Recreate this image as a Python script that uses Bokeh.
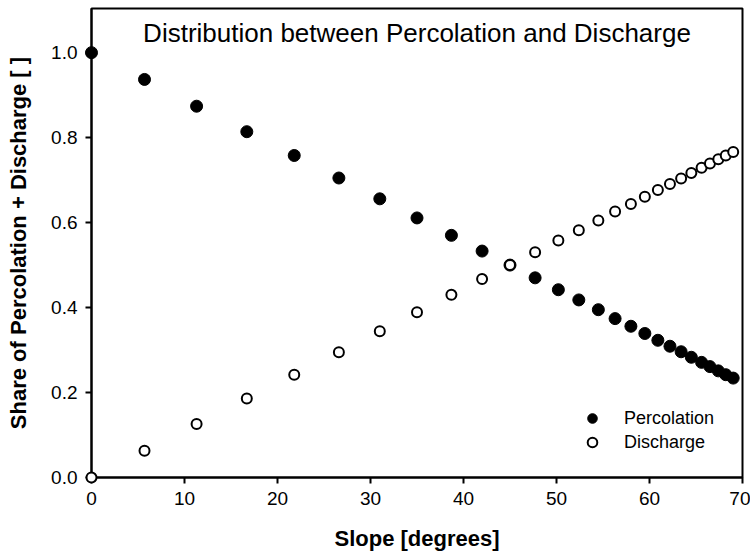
from bokeh.plotting import figure
from bokeh.models import FixedTicker, NumeralTickFormatter, Label, Legend, LegendItem, Range1d
from bokeh.embed import file_html
from bokeh.resources import INLINE

slope = [0.0, 5.7, 11.3, 16.7, 21.8, 26.6, 31.0, 35.0, 38.7, 42.0, 45.0, 47.7, 50.2, 52.4,
         54.5, 56.3, 58.0, 59.5, 60.9, 62.2, 63.4, 64.5, 65.6, 66.5, 67.4, 68.2, 69.0]
percolation = [1.0, 0.937, 0.874, 0.814, 0.758, 0.705, 0.656, 0.611, 0.570, 0.533, 0.500, 0.470,
               0.442, 0.418, 0.395, 0.374, 0.356, 0.339, 0.323, 0.309, 0.296, 0.283, 0.271,
               0.261, 0.251, 0.242, 0.234]
discharge = [0.0, 0.063, 0.126, 0.186, 0.242, 0.295, 0.344, 0.389, 0.430, 0.467, 0.500, 0.530,
             0.558, 0.582, 0.605, 0.626, 0.644, 0.661, 0.677, 0.691, 0.704, 0.717, 0.729,
             0.739, 0.749, 0.758, 0.766]
x_ticks = [0, 10, 20, 30, 40, 50, 60, 70]
y_ticks = [0.0, 0.2, 0.4, 0.6, 0.8, 1.0]
title_text = "Distribution between Percolation and Discharge"
x_label = "Slope [degrees]"
y_label = "Share of Percolation + Discharge [ ]"

FONT = "Liberation Sans"

p = figure(width=750, height=557, output_backend="svg", toolbar_location=None,
           x_range=Range1d(0, 70), y_range=Range1d(0, 1.104),
           min_border_left=91, min_border_right=8, min_border_top=8, min_border_bottom=80)

p.xgrid.visible = False
p.ygrid.visible = False
p.outline_line_color = "black"
p.outline_line_width = 2
p.outline_line_alpha = 1
p.background_fill_color = "white"
p.border_fill_color = "white"

for ax in (p.xaxis[0], p.yaxis[0]):
    ax.axis_line_width = 2
    ax.axis_line_color = "black"
    ax.major_tick_line_width = 2
    ax.major_tick_line_color = "black"
    ax.major_tick_out = 6
    ax.major_tick_in = 0
    ax.minor_tick_out = 0
    ax.minor_tick_in = 0
    ax.major_label_text_font = FONT
    ax.major_label_text_font_size = "19px"
    ax.major_label_text_color = "black"
    ax.axis_label_text_font = FONT
    ax.axis_label_text_font_size = "22px"
    ax.axis_label_text_font_style = "bold"
    ax.axis_label_text_color = "black"

p.xaxis[0].ticker = FixedTicker(ticks=x_ticks)
p.yaxis[0].ticker = FixedTicker(ticks=y_ticks)
p.yaxis[0].formatter = NumeralTickFormatter(format="0.0")
p.xaxis[0].axis_label = x_label
p.yaxis[0].axis_label = y_label
p.xaxis[0].major_label_standoff = 8
p.xaxis[0].axis_label_standoff = 18
p.yaxis[0].major_label_standoff = 8
p.yaxis[0].axis_label_standoff = 17

r1 = p.scatter(slope, percolation, size=12, marker="circle", fill_color="black",
               line_color="black", line_width=1, level="overlay")
r2 = p.scatter(slope, discharge, size=10, marker="circle", fill_color="white",
               line_color="black", line_width=2, level="overlay")

p.add_layout(Label(x=35, y=1.047, text=title_text, text_align="center", text_baseline="middle",
                   text_font=FONT, text_font_size="26px", text_color="black"))

legend = Legend(items=[LegendItem(label="Percolation", renderers=[r1]),
                       LegendItem(label="Discharge", renderers=[r2])],
                location=(488, 23), border_line_alpha=0, background_fill_alpha=0,
                glyph_width=26, glyph_height=24, label_height=24, label_standoff=19,
                padding=0, spacing=0, margin=0,
                label_text_font=FONT, label_text_font_size="18px", label_text_color="black")
p.add_layout(legend)

open("out.html", "w").write(file_html(p, INLINE))
